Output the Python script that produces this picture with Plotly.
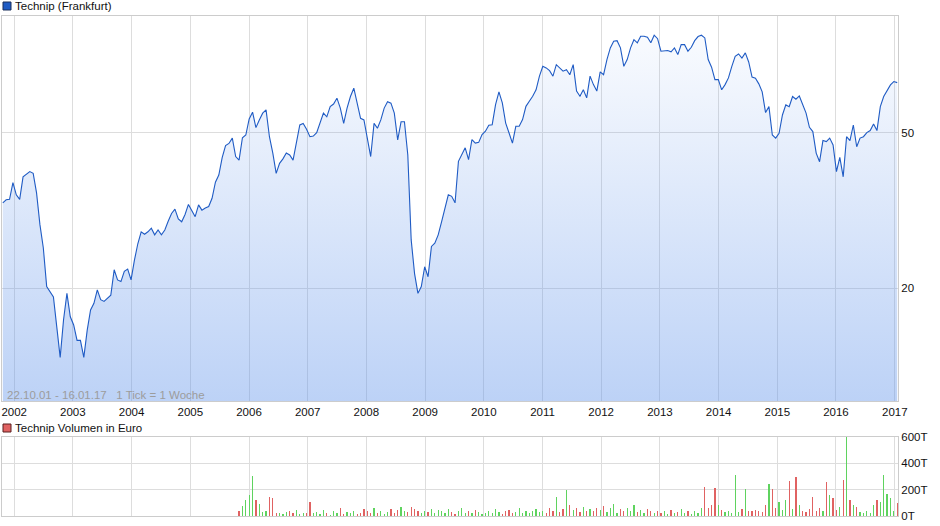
import math
import pandas as pd
import plotly.graph_objects as go

# ---------------- data ----------------
start_date = "2001-10-22"   # first sample
step_days = 21              # one value every 3 weeks

price = [
    33.1, 33.7, 33.8, 37.3, 34.7, 33.8, 38.6, 39.3, 39.8, 39.4,
    35.1, 29.1, 25.4, 20.2, 19.6, 19.0, 15.9, 13.3, 16.6, 19.4,
    16.9, 16.1, 14.7, 14.7, 13.3, 15.6, 17.6, 18.3, 19.8, 18.7,
    18.5, 18.8, 19.2, 22.3, 21.0, 20.8, 22.1, 22.4, 21.0, 23.6,
    26.0, 27.9, 27.5, 27.9, 28.5, 27.4, 28.2, 27.4, 28.2, 29.7,
    31.1, 31.9, 30.1, 29.6, 30.9, 32.8, 31.7, 30.5, 32.7, 31.7,
    32.1, 32.4, 34.0, 37.4, 39.0, 43.2, 46.4, 47.0, 48.5, 43.5,
    42.6, 48.6, 49.4, 54.3, 56.5, 51.6, 54.0, 56.2, 57.3, 48.9,
    44.4, 39.4, 41.8, 42.9, 44.4, 43.9, 42.6, 47.0, 52.4, 52.9,
    51.1, 48.9, 49.1, 50.1, 53.4, 56.2, 55.0, 58.4, 59.3, 61.4,
    57.9, 52.9, 57.9, 62.0, 65.1, 59.6, 54.5, 54.0, 48.9, 43.5,
    52.9, 51.4, 54.0, 57.9, 60.1, 59.6, 56.2, 48.0, 53.4, 53.4,
    43.9, 26.6, 21.8, 19.4, 20.2, 22.7, 21.4, 25.6, 26.1, 27.4,
    29.6, 32.0, 34.7, 34.4, 33.1, 42.3, 44.0, 45.8, 42.7, 48.1,
    47.1, 47.3, 49.5, 50.5, 52.3, 52.5, 59.1, 63.7, 59.7, 53.0,
    50.0, 47.1, 52.0, 52.0, 54.1, 58.5, 60.3, 62.1, 64.5, 69.9,
    74.1, 73.4, 72.2, 69.9, 74.8, 73.4, 72.0, 72.6, 70.5, 74.8,
    64.0, 62.1, 64.5, 61.5, 69.9, 66.5, 64.0, 71.7, 70.5, 77.1,
    82.6, 85.9, 86.2, 82.6, 74.1, 77.1, 82.6, 86.7, 85.1, 88.5,
    88.5, 88.0, 85.1, 89.0, 87.2, 81.0, 81.0, 81.3, 80.7, 82.6,
    79.4, 84.2, 84.2, 81.0, 82.9, 86.2, 88.3, 89.0, 87.6, 77.1,
    73.7, 68.5, 68.5, 64.5, 66.5, 69.2, 74.1, 78.6, 79.7, 77.8,
    80.2, 76.0, 69.5, 69.1, 66.8, 63.7, 56.4, 58.4, 49.4, 48.5,
    49.9, 55.6, 59.0, 58.4, 62.0, 61.0, 62.2, 59.3, 56.2, 51.7,
    50.4, 44.4, 42.2, 47.8, 47.5, 48.5, 46.6, 39.8, 43.3, 38.6,
    48.9, 47.8, 52.4, 46.1, 48.5, 48.9, 50.1, 50.7, 52.7, 50.7,
    58.4, 62.0, 64.4, 66.4, 67.7, 67.3,
]

vol_offset = 70   # volume data starts at this sample
volume_T = [
    40, 75, 120, 160, 304, 122, 90, 30, 40, 147, 135, 25, 20, 15, 30, 35, 20, 45, 15, 20, 25, 107, 20,
    30, 15, 45, 20, 10, 35, 25, 60, 15, 30, 20, 40, 15, 25, 50,
    35, 20, 60, 25, 40, 15, 30, 55, 20, 45, 70, 40, 30, 65, 50, 35, 25, 40,
    30, 55, 20, 45, 35, 25, 50, 30, 15, 40, 60, 25, 35, 20, 45, 30, 15,
    25, 40, 20, 55, 30, 15, 35, 45, 20, 30, 60, 25, 40, 20, 35, 50, 30,
    40, 25, 60, 35, 145, 30, 50, 200, 80, 45, 60, 30, 70, 40, 55, 35, 60,
    45, 77, 30, 60, 92, 25, 50, 35, 59, 40, 85, 30, 45, 20, 50, 35, 25, 40,
    20, 35, 15, 45, 25, 30, 50, 20, 40, 15, 35, 25, 60,
    218, 60, 85, 213, 85, 46, 30, 40, 20, 315, 30, 50, 208, 40, 40, 45, 40, 30, 85, 246,
    205, 60, 110, 45, 123, 269, 50, 300, 85, 40, 30, 50, 144, 40, 60, 35, 256, 162, 136, 45,
    70, 277, 605, 120, 85, 70, 30, 25, 40, 20, 85, 118, 110, 315, 167, 136, 40, 97,
]

vol_ticks = [0, 200, 400, 600]
vol_ticktext = ["0T", "200T", "400T", "600T"]
price_ticks = [20, 50]
price_axis = [10.28, 99.7]   # visible price range (log axis)

# ---------------- figure ----------------
dates = pd.date_range(start_date, periods=len(price), freq=f"{step_days}D")
vdates = dates[vol_offset:vol_offset + len(volume_T)]
UP, DOWN = "#5fd35f", "#e06262"
vcolors = [UP if price[i] >= price[i - 1] else DOWN
           for i in range(vol_offset, vol_offset + len(volume_T))]

W, H = 940, 526
ML, MR, MT, MB = 2, 42, 16, 10
PW, PH = W - ML - MR, H - MT - MB
FONT = "Liberation Sans, Arial, sans-serif"


def px_x(px):
    return (px - ML) / PW


def px_y(py):
    return (H - MB - py) / PH


fig = go.Figure()
fig.add_trace(go.Scatter(
    x=dates, y=price, mode="lines",
    line=dict(color="#1f5bc4", width=1.1),
    fill="tozeroy",
    fillgradient=dict(type="vertical",
                      start=price_axis[0], stop=price_axis[1],
                      colorscale=[[0, "rgba(100,150,235,0.43)"],
                                  [1, "rgba(100,150,235,0.02)"]]),
    xaxis="x", yaxis="y", hoverinfo="skip",
))
fig.add_trace(go.Bar(
    x=vdates, y=volume_T, marker=dict(color=vcolors, line=dict(width=0)),
    width=1000 * 3600 * 24 * 8,
    xaxis="x2", yaxis="y2", hoverinfo="skip",
))

grid = "#dddddd"
border = "#cccccc"
xcommon = dict(type="date", range=["2001-10-17", "2017-01-21"],
               tick0="2002-01-01", dtick="M12", tickformat="%Y",
               showgrid=True, gridcolor=grid, gridwidth=1,
               showline=True, linecolor=border, mirror=True,
               ticks="", zeroline=False)

fig.update_layout(
    width=W, height=H, margin=dict(l=ML, r=MR, t=MT, b=MB),
    paper_bgcolor="white", plot_bgcolor="white", showlegend=False,
    font=dict(family=FONT, size=11.5, color="#111"),
    bargap=0,
    xaxis=dict(domain=[0, 1], anchor="y", **xcommon),
    yaxis=dict(domain=[px_y(401), 1], anchor="x", type="log",
               range=[math.log10(price_axis[0]), math.log10(price_axis[1])],
               side="right",
               tickvals=price_ticks, ticktext=[str(v) for v in price_ticks],
               showgrid=True, gridcolor=grid, showline=True,
               linecolor=border, mirror=True, ticks="", zeroline=False),
    xaxis2=dict(domain=[0, 1], anchor="y2", showticklabels=False, **xcommon),
    yaxis2=dict(domain=[0, px_y(437)], anchor="x2", range=[0, 600],
                side="right", tickvals=vol_ticks, ticktext=vol_ticktext,
                showgrid=True, gridcolor=grid, showline=True,
                linecolor=border, mirror=True, ticks="", zeroline=False),
)

# legends / captions
fig.add_shape(type="rect", xref="paper", yref="paper",
              x0=px_x(3), x1=px_x(11), y0=px_y(10), y1=px_y(2),
              fillcolor="#1f5bc4", line=dict(color="#1a2f5a", width=1))
fig.add_annotation(xref="paper", yref="paper", x=px_x(13), y=px_y(6),
                   text="Technip (Frankfurt)", showarrow=False,
                   xanchor="left", yanchor="middle",
                   font=dict(family=FONT, size=11.5, color="#111"))
fig.add_shape(type="rect", xref="paper", yref="paper",
              x0=px_x(3), x1=px_x(11), y0=px_y(432), y1=px_y(424),
              fillcolor="#e06262", line=dict(color="#5a1f1f", width=1))
fig.add_annotation(xref="paper", yref="paper", x=px_x(13), y=px_y(428),
                   text="Technip Volumen in Euro", showarrow=False,
                   xanchor="left", yanchor="middle",
                   font=dict(family=FONT, size=11.5, color="#111"))
fig.add_annotation(xref="paper", yref="paper", x=px_x(5), y=px_y(395),
                   text="22.10.01 - 16.01.17\u00a0\u00a0 1 Tick = 1 Woche",
                   showarrow=False, xanchor="left", yanchor="middle",
                   font=dict(family=FONT, size=11.5, color="#9c9c9c"))

fig.write_html("out.html",
               config={"displayModeBar": False, "staticPlot": True},
               post_script="document.body.style.margin='0';document.body.style.overflow='hidden';")
